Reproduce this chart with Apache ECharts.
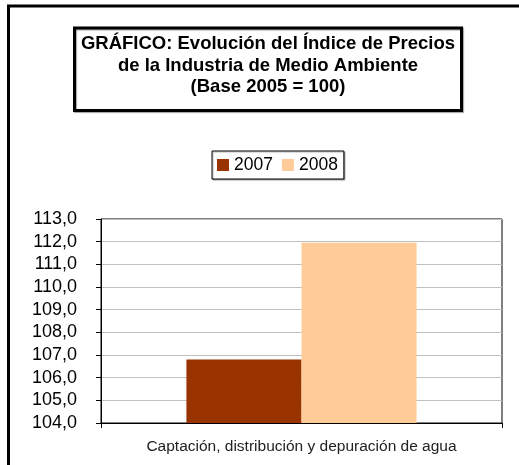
<!DOCTYPE html>
<html>
<head>
<meta charset="utf-8">
<script src="https://cdn.jsdelivr.net/npm/echarts@6/dist/echarts.min.js"></script>
<style>
html,body{margin:0;padding:0;background:#fff;}
#chart{width:519px;height:465px;}
</style>
</head>
<body>
<div id="chart"></div>
<script>
const titleLines = ['GRÁFICO: Evolución del Índice de Precios', 'de la Industria de Medio Ambiente', '(Base 2005 = 100)'];
const categories = ['Captación, distribución y depuración de agua'];
const seriesNames = ['2007', '2008'];
const values2007 = [106.8];
const values2008 = [111.95];
const seriesColors = ['#993300', '#FFCC99'];
const yMin = 104, yMax = 113, yStep = 1;

const titleFont = 'bold 18.5px "Liberation Sans", Arial, sans-serif';
const chart = echarts.init(document.getElementById('chart'));
chart.setOption({
  animation: false,
  backgroundColor: '#fff',
  graphic: [
    { type: 'rect', shape: { x: 8.5, y: 6, width: 560, height: 520 }, style: { fill: null, stroke: '#000', lineWidth: 3 }, z: 0 },
    { type: 'rect', shape: { x: 74.5, y: 28, width: 387, height: 82.5 }, style: { fill: '#fff', stroke: '#000', lineWidth: 3, shadowColor: 'rgba(0,0,0,0.35)', shadowOffsetX: 1, shadowOffsetY: 1, shadowBlur: 1 }, z: 1 },
    { type: 'text', x: 268, y: 44, style: { text: titleLines[0], textAlign: 'center', textVerticalAlign: 'middle', font: titleFont, fill: '#000' }, z: 2 },
    { type: 'text', x: 268, y: 65.5, style: { text: titleLines[1], textAlign: 'center', textVerticalAlign: 'middle', font: titleFont, fill: '#000' }, z: 2 },
    { type: 'text', x: 268, y: 87, style: { text: titleLines[2], textAlign: 'center', textVerticalAlign: 'middle', font: titleFont, fill: '#000' }, z: 2 }
  ],
  legend: {
    data: seriesNames,
    left: 212,
    top: 151,
    padding: [5, 6, 5, 5],
    itemWidth: 12,
    itemHeight: 12,
    itemGap: 9,
    icon: 'rect',
    borderColor: '#000',
    borderWidth: 1,
    shadowColor: 'rgba(0,0,0,0.3)',
    shadowOffsetX: 1,
    shadowOffsetY: 1,
    shadowBlur: 1,
    backgroundColor: '#fff',
    textStyle: { fontSize: 17.5, color: '#000', fontFamily: '"Liberation Sans", Arial, sans-serif' }
  },
  grid: {
    left: 101, right: 17, top: 219, bottom: 42,
    show: true, borderColor: '#000', borderWidth: 1, backgroundColor: 'transparent'
  },
  xAxis: {
    type: 'category',
    data: categories,
    boundaryGap: true,
    axisLine: { lineStyle: { color: '#000', width: 1 } },
    axisTick: { show: true, length: 5, lineStyle: { color: '#000' } },
    axisLabel: { margin: 16, fontSize: 15.5, color: '#222', fontFamily: '"Liberation Sans", Arial, sans-serif' }
  },
  yAxis: {
    type: 'value',
    min: yMin, max: yMax, interval: yStep,
    axisLine: { show: true, lineStyle: { color: '#000', width: 1 } },
    axisTick: { show: true, length: 5, lineStyle: { color: '#000' } },
    splitLine: { lineStyle: { color: '#c0c0c0', width: 1 } },
    axisLabel: {
      margin: 24, fontSize: 18, color: '#000', fontFamily: '"Liberation Sans", Arial, sans-serif',
      formatter: v => v.toFixed(1).replace('.', ',')
    }
  },
  series: [
    { name: seriesNames[0], type: 'bar', data: values2007, itemStyle: { color: seriesColors[0] }, barGap: '0%', barCategoryGap: '42.6%' },
    { name: seriesNames[1], type: 'bar', data: values2008, itemStyle: { color: seriesColors[1] }, barGap: '0%', barCategoryGap: '42.6%' }
  ]
});
</script>
</body>
</html>
